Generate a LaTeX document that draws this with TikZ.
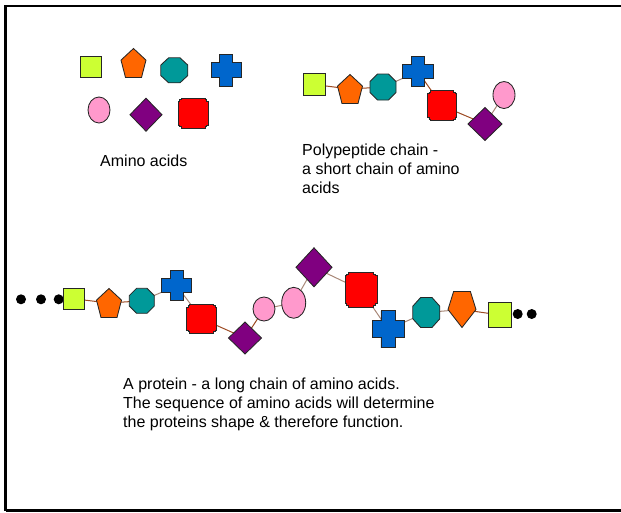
\documentclass[tikz,border=0pt]{standalone}
\usepackage{fontspec}
\setmainfont{Liberation Sans}
\usetikzlibrary{backgrounds}
\definecolor{cLime}{HTML}{CCFF33}
\definecolor{cOrange}{HTML}{FF6600}
\definecolor{cTeal}{HTML}{009999}
\definecolor{cBlue}{HTML}{0066CC}
\definecolor{cPink}{HTML}{FF99CC}
\definecolor{cPurple}{HTML}{800080}
\definecolor{cRed}{HTML}{FF0000}
\definecolor{cBrown}{HTML}{9C4A22}
\definecolor{cTan}{HTML}{A88878}
\definecolor{cOutline}{HTML}{262626}
\tikzset{
  outl/.style={draw=cOutline, line width=0.85pt, line join=miter},
  spot/.style={shape=rectangle, inner sep=0pt, draw=none},
  sqs/.style={outl, fill=cLime, insert path={(-1,-1) rectangle (1,1)}},
  pent/.style={outl, fill=cOrange, insert path={(0,-1) -- (1,-0.2) -- (0.64,1) -- (-0.64,1) -- (-1,-0.2) -- cycle}},
  ipent/.style={outl, fill=cOrange, insert path={(-0.6,-1) -- (0.6,-1) -- (1,0) -- (0,1) -- (-1,0) -- cycle}},
  oct/.style={outl, fill=cTeal, insert path={(-0.42,-1) -- (0.42,-1) -- (1,-0.42) -- (1,0.42) -- (0.42,1) -- (-0.42,1) -- (-1,0.42) -- (-1,-0.42) -- cycle}},
  roct/.style={outl, fill=cRed, insert path={(-0.8,-1) -- (0.8,-1) -- (0.8,-0.9) -- (0.9,-0.9) -- (0.9,-0.8) -- (1,-0.8) -- (1,0.8) -- (0.9,0.8) -- (0.9,0.9) -- (0.8,0.9) -- (0.8,1) -- (-0.8,1) -- (-0.8,0.9) -- (-0.9,0.9) -- (-0.9,0.8) -- (-1,0.8) -- (-1,-0.8) -- (-0.9,-0.8) -- (-0.9,-0.9) -- (-0.8,-0.9) -- cycle}},
  crs/.style={outl, fill=cBlue, insert path={(-0.44,-1) -- (0.44,-1) -- (0.44,-0.46) -- (1,-0.46) -- (1,0.46) -- (0.44,0.46) -- (0.44,1) -- (-0.44,1) -- (-0.44,0.46) -- (-1,0.46) -- (-1,-0.46) -- (-0.44,-0.46) -- cycle}},
  dia/.style={outl, fill=cPurple, insert path={(0,-1) -- (1,0) -- (0,1) -- (-1,0) -- cycle}},
  ell/.style={outl, fill=cPink, insert path={(0,0) circle (1)}},
  dot/.style={shape=circle, fill=black, inner sep=0pt, minimum size=10pt},
  brownlink/.style={draw=cBrown, line width=1pt},
  tanlink/.style={draw=cTan, line width=1pt},
  lbl/.style={anchor=base west, inner sep=0pt, font=\fontsize{16}{19}\selectfont},
  frame/.style={draw=black, line width=2.4pt}
}
\newcommand{\amino}[6]{%
  \node[spot, minimum width=#5pt, minimum height=#6pt] (#2) at (#3,#4) {};
  \begin{scope}[shift={(#3,#4)}, xscale=#5/2, yscale=#6/2]
    \path[#1];
  \end{scope}}
\begin{document}
\begin{tikzpicture}[x=1pt, y=-1pt]
\useasboundingbox (0,0) rectangle (621,512);
\draw[frame] (5.5,510.5) -- (5.5,6) -- (621,6);
\draw[frame] (5.5,510.5) -- (621,510.5);

% free amino acids
\amino{sqs}{a1}{90.5}{66.5}{21}{21}
\amino{pent}{a2}{133.5}{63}{25}{29}
\amino{oct}{a3}{174.3}{70.3}{27}{25}
\amino{crs}{a4}{226}{70}{30}{32}
\amino{ell}{a5}{99}{110}{22}{26}
\amino{dia}{a6}{146}{114.7}{32}{33}
\amino{roct}{a7}{193.3}{113.3}{30}{30}

% polypeptide chain
\amino{sqs}{b1}{314}{84.5}{22}{22}
\amino{pent}{b2}{350}{89}{25}{29}
\amino{oct}{b3}{383}{87}{26}{26}
\amino{crs}{b4}{418}{71.7}{31}{30}
\amino{roct}{b5}{442}{105.7}{29}{30}
\amino{dia}{b6}{485}{124}{34}{33}
\amino{ell}{b7}{504}{95}{22}{27}

% protein
\node[dot] (d1) at (21,299.3) {};
\node[dot] (d2) at (41,299.3) {};
\node[dot] (d3) at (58.7,299.3) {};
\amino{sqs}{c1}{73.8}{298.8}{21}{21}
\amino{pent}{c2}{109}{303}{25}{29}
\amino{oct}{c3}{141.8}{300.8}{25}{25}
\amino{crs}{c4}{176.7}{285.8}{30}{30}
\amino{roct}{c5}{201.7}{318.8}{30}{29}
\amino{dia}{c6}{245}{338}{33}{32}
\amino{ell}{c7}{264}{309}{22}{24}
\amino{ell}{c8}{293.7}{302.8}{24}{31}
\amino{dia}{c9}{314}{267.3}{36}{39}
\amino{roct}{c10}{361}{289.8}{32}{35}
\amino{crs}{c11}{388}{329.3}{32}{37}
\amino{oct}{c12}{426.3}{312.5}{27}{30}
\amino{ipent}{c13}{462}{309.5}{28}{36}
\amino{sqs}{c14}{500}{315}{23}{25}
\node[dot] (e1) at (517.7,314) {};
\node[dot] (e2) at (531.7,314) {};

\begin{pgfonlayer}{background}
  \draw[brownlink] (b1.center) -- (b2.center);
  \draw[brownlink] (b2.center) -- (b3.center);
  \draw[tanlink] (b3.center) -- (b4.center);
  \draw[brownlink] (b4.center) -- (b5.center);
  \draw[brownlink] (b5.center) -- (b6.center);
  \draw[tanlink] (b6.center) -- (b7.center);
  \draw[brownlink] (c1.center) -- (c2.center);
  \draw[brownlink] (c2.center) -- (c3.center);
  \draw[tanlink] (c3.center) -- (c4.center);
  \draw[tanlink] (c4.center) -- (c5.center);
  \draw[brownlink] (c5.center) -- (c6.center);
  \draw[brownlink] (c6.center) -- (c7.center);
  \draw[tanlink] (c7.center) -- (c8.center);
  \draw[tanlink] (c8.center) -- (c9.center);
  \draw[tanlink] (c9.center) -- (c10.center);
  \draw[tanlink] (c10.center) -- (c11.center);
  \draw[tanlink] (c11.center) -- (c12.center);
  \draw[tanlink] (c12.center) -- (c13.center);
  \draw[brownlink] (c13.center) -- (c14.center);
\end{pgfonlayer}

% texts
\node[lbl] (t1) at (100,166) {Amino acids};
\node[lbl] (t2) at (302,155) {Polypeptide chain -};
\node[lbl] (t3) at (302,174) {a short chain of amino};
\node[lbl] (t4) at (302,193) {acids};
\node[lbl] (t5) at (123,389) {A protein - a long chain of amino acids.};
\node[lbl] (t6) at (123,408) {The sequence of amino acids will determine};
\node[lbl] (t7) at (123,427) {the proteins shape \& therefore function.};
\end{tikzpicture}
\end{document}
